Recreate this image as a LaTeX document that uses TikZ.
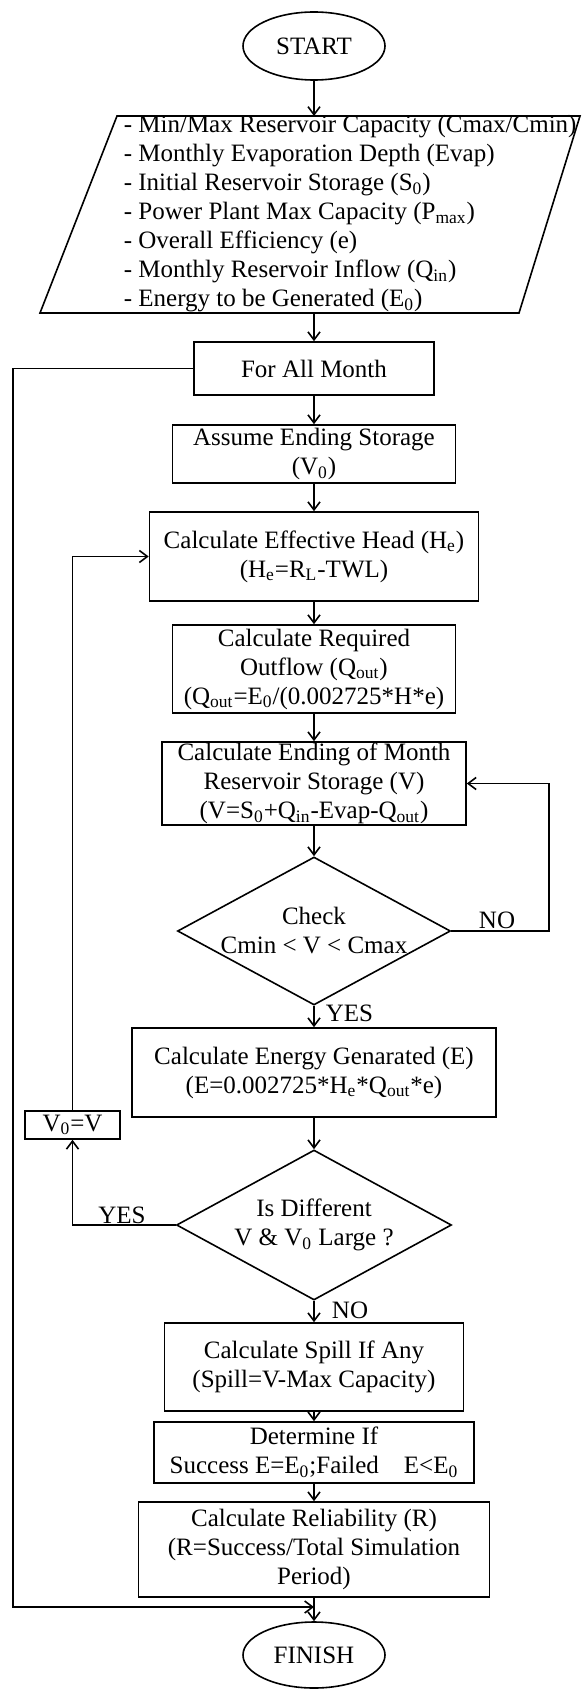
\documentclass[tikz,border=0pt]{standalone}
\usepackage{fontspec}
\setmainfont{Liberation Serif}
\usetikzlibrary{shapes.geometric,arrows.meta}
\begin{document}
\begin{tikzpicture}[x=0.5pt,y=-0.5pt,
  font=\fontsize{12.5}{14.5}\selectfont,
  line width=0.8pt,
  >={Straight Barb[length=4pt,width=6pt]},
  box/.style={draw,rectangle,align=center,inner sep=0pt},
  term/.style={draw,ellipse,inner sep=0pt,minimum width=71pt,minimum height=34pt},
  dia/.style={draw,diamond,inner sep=0pt},
  lbl/.style={inner sep=0pt}]
\useasboundingbox (0,0) rectangle (583,1690);

% terminals
\node[term] (start) at (314,46) {START};
\node[term,minimum height=33pt] (finish) at (314,1655) {FINISH};

% input parallelogram
\coordinate (p1) at (117,116);
\coordinate (p2) at (580,116);
\coordinate (p3) at (519,313);
\coordinate (p4) at (40,313);
\draw (p1) -- (p2) -- (p3) -- (p4) -- cycle;
\coordinate (inptop) at (314,116);
\coordinate (inpbot) at (314,313);
\node[lbl,align=left,anchor=west] (inp) at (123,214) {%
- Min/Max Reservoir Capacity (Cmax/Cmin)\\
- Monthly Evaporation Depth (Evap)\\
- Initial Reservoir Storage (S\textsubscript{0})\\
- Power Plant Max Capacity (P\textsubscript{max})\\
- Overall Efficiency (e)\\
- Monthly Reservoir Inflow (Q\textsubscript{in})\\
- Energy to be Generated (E\textsubscript{0})};

% process boxes
\node[box,minimum width=120pt,minimum height=26.5pt] (forall) at (314,368.5) {For All Month};
\node[box,minimum width=141.5pt,minimum height=29pt] (assume) at (314,454) {Assume Ending Storage\\(V\textsubscript{0})};
\node[box,minimum width=164.5pt,minimum height=44.5pt] (effhead) at (314,556.5) {Calculate Effective Head (H\textsubscript{e})\\(H\textsubscript{e}=R\textsubscript{L}-TWL)};
\node[box,minimum width=141.5pt,minimum height=44pt] (reqout) at (314,669) {Calculate Required\\Outflow (Q\textsubscript{out})\\(Q\textsubscript{out}=E\textsubscript{0}/(0.002725*H*e)};
\node[box,minimum width=152pt,minimum height=41.5pt] (ending) at (314,783.5) {Calculate Ending of Month\\Reservoir Storage (V)\\(V=S\textsubscript{0}+Q\textsubscript{in}-Evap-Q\textsubscript{out})};

\node[dia,minimum width=136.5pt,minimum height=74pt] (check) at (314,931) {};
\node[lbl,align=center] (checktxt) at (check.center) {Check\\Cmin < V < Cmax};

\node[box,minimum width=182pt,minimum height=44.5pt] (energy) at (314,1072.5) {Calculate Energy Genarated (E)\\(E=0.002725*H\textsubscript{e}*Q\textsubscript{out}*e)};

\node[box,minimum width=47.5pt,minimum height=14pt] (v0v) at (72.5,1125) {V\textsubscript{0}=V};

\node[dia,minimum width=137.5pt,minimum height=75pt] (isdiff) at (314,1225) {};
\node[lbl,align=center] (isdifftxt) at (isdiff.center) {Is Different\\V \& V\textsubscript{0} Large ?};

\node[box,minimum width=149.5pt,minimum height=44pt] (spill) at (314,1367) {Calculate Spill If Any\\(Spill=V-Max Capacity)};
\node[box,minimum width=160pt,minimum height=30.5pt] (determine) at (314,1452.5) {Determine If\\Success E=E\textsubscript{0};Failed\quad E<E\textsubscript{0}};
\node[box,minimum width=175.5pt,minimum height=47.5pt] (reliab) at (314,1549.5) {Calculate Reliability (R)\\(R=Success/Total Simulation\\Period)};

\coordinate (finmid) at (314,1607);

% main flow
\draw[->] (start) -- (inptop);
\draw[->] (inpbot) -- (forall);
\draw[->] (forall) -- (assume);
\draw[->] (assume) -- (effhead);
\draw[->] (effhead) -- (reqout);
\draw[->] (reqout) -- (ending);
\draw[->] (ending) -- (check);
\draw[->] (check) -- (energy);
\draw[->] (energy) -- (isdiff);
\draw[->] (isdiff) -- (spill);
\draw[->] (spill) -- (determine);
\draw[->] (determine) -- (reliab);
\draw[->] (reliab) -- (finish);

% loops
\draw[->] (check.east) -- ++(97.5,0) |- (ending.east);
\draw[->] (isdiff.west) -| (v0v.south);
\draw[->] (v0v.north) |- (effhead.west);
\draw[->] (forall.west) -- ++(-180,0) |- (finmid);

% labels
\node[lbl] at (497,920) {NO};
\node[lbl] at (349.5,1013) {YES};
\node[lbl] at (122,1215) {YES};
\node[lbl] at (350,1310) {NO};
\end{tikzpicture}
\end{document}
